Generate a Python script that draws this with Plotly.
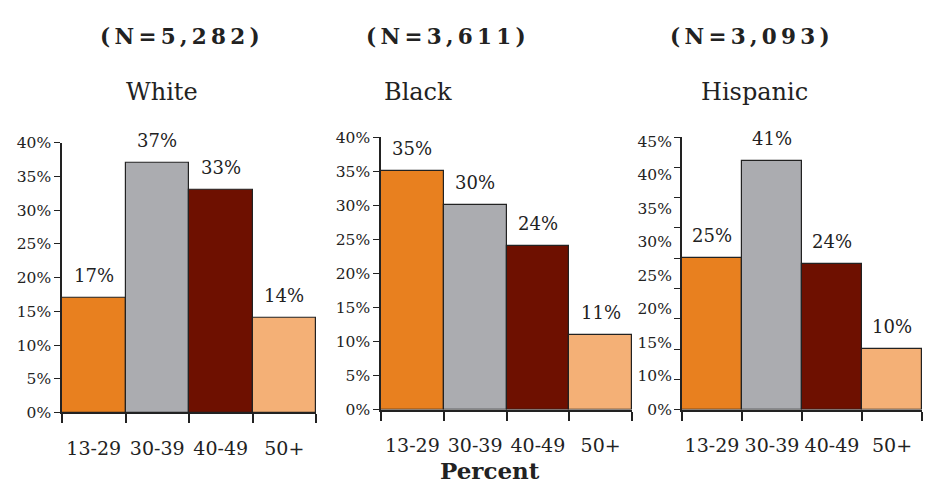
import numpy as np
import plotly.graph_objects as go

# Age groups and share of each group, by race/ethnicity
age_groups = ["13-29", "30-39", "40-49", "50+"]
white_pct = [17, 37, 33, 14]
black_pct = [35, 30, 24, 11]
hispanic_pct = [25, 41, 24, 10]

group_names = ["White", "Black", "Hispanic"]
group_counts = ["(N=5,282)", "(N=3,611)", "(N=3,093)"]

# Tick labels printed on the Hispanic panel's value axis
hispanic_tick_labels = ["0%", "10%", "15%", "20%", "25%", "30%", "35%", "40%", "45%"]

bar_colors = ["#E8801F", "#ABACB0", "#6E1000", "#F4B076"]
FONT = "DejaVu Serif"
INK = "#222222"
W, H = 925, 486


def fx(px):
    return px / W


def fy(px):
    return 1 - px / H


panels = [
    # (values, x-left px, x-right px, y-bottom px, y-top px, y max)
    (white_pct, 62, 316, 419, 139, 40),
    (black_pct, 381, 632, 416, 133, 40),
    (hispanic_pct, 682, 922, 416, 133, 45),
]

fig = go.Figure()
layout = dict(
    width=W, height=H,
    margin=dict(l=0, r=0, t=0, b=0),
    paper_bgcolor="white", plot_bgcolor="white",
    bargap=0, showlegend=False,
    font=dict(family=FONT, color=INK),
)
annotations = []

for i, (vals, xl, xr, yb, yt, ymax) in enumerate(panels):
    n = i + 1
    xa = "x" if n == 1 else f"x{n}"
    ya = "y" if n == 1 else f"y{n}"
    fig.add_trace(go.Bar(
        x=age_groups, y=vals, xaxis=xa, yaxis=ya, width=1,
        marker=dict(color=bar_colors, line=dict(color=INK, width=1.2)),
        hoverinfo="skip",
    ))
    layout[f"xaxis{'' if n == 1 else n}"] = dict(
        domain=[fx(xl), fx(xr)], anchor=ya,
        type="category", categoryorder="array", categoryarray=age_groups,
        range=[-0.5, 3.5], tickson="boundaries", tickangle=0,
        ticks="outside", ticklen=9, tickwidth=1.5, tickcolor=INK,
        showline=True, linewidth=2, linecolor=INK, showgrid=False,
        tickfont=dict(size=19, family=FONT, color=INK),
        ticklabelstandoff=18,
    )
    yax = dict(
        domain=[fy(yb), fy(yt)], anchor=xa,
        range=[0, ymax], tickmode="linear", tick0=0, dtick=5,
        ticksuffix="%", ticks="outside", ticklen=6, tickwidth=1.2,
        tickcolor=INK, showline=True, linewidth=1.5, linecolor=INK,
        showgrid=False, zeroline=False,
        tickfont=dict(size=15.5, family=FONT, color=INK),
    )
    if n == 3:
        yax["showticklabels"] = False
    layout[f"yaxis{'' if n == 1 else n}"] = yax

    for cat, v in zip(age_groups, vals):
        annotations.append(dict(
            x=cat, y=v, xref=xa, yref=ya, text=f"{v}%",
            showarrow=False, yanchor="bottom", yshift=10,
            font=dict(size=18, family=FONT, color=INK),
        ))

# Separate label-only axis for the Hispanic panel's printed tick labels
label_pos = np.linspace(0.0, 44.3, len(hispanic_tick_labels))
layout["yaxis4"] = dict(
    domain=layout["yaxis3"]["domain"], overlaying="y3", anchor="x3",
    range=[0, 45], tickmode="array", tickvals=list(label_pos),
    ticktext=hispanic_tick_labels, ticks="outside", ticklen=6,
    tickcolor="rgba(0,0,0,0)", showline=False, showgrid=False,
    zeroline=False, tickfont=dict(size=15.5, family=FONT, color=INK),
)
fig.add_trace(go.Scatter(x=[None], y=[None], xaxis="x3", yaxis="y4",
                         hoverinfo="skip"))

# Panel headings
count_x = [180, 446, 750]
name_x = [162, 418, 754]
for cnt, name, cx, nx in zip(group_counts, group_names, count_x, name_x):
    spaced = "\u2009".join(cnt)
    annotations.append(dict(
        x=fx(cx), y=fy(29), xref="paper", yref="paper", text=f"<b>{spaced}</b>",
        showarrow=False, xanchor="center", yanchor="middle",
        font=dict(size=21.5, family=FONT, color=INK),
    ))
    annotations.append(dict(
        x=fx(nx), y=fy(86), xref="paper", yref="paper", text=name,
        showarrow=False, xanchor="center", yanchor="middle",
        font=dict(size=24, family=FONT, color=INK),
    ))

annotations.append(dict(
    x=fx(490), y=fy(479), xref="paper", yref="paper", text="<b>Percent</b>",
    showarrow=False, xanchor="center", yanchor="middle", borderpad=0,
    font=dict(size=23, family=FONT, color=INK),
))

layout["annotations"] = annotations
fig.update_layout(**layout)
fig.write_html("out.html")
